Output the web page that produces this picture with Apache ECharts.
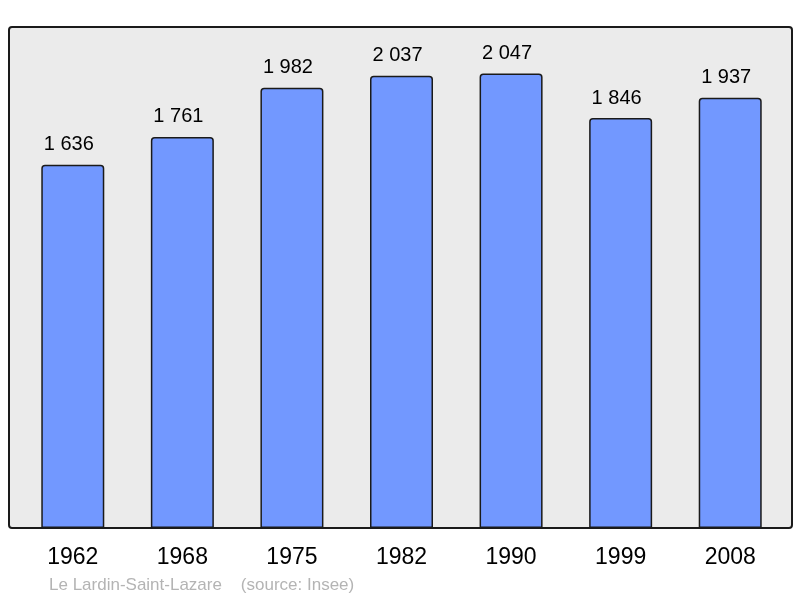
<!DOCTYPE html>
<html>
<head>
<meta charset="utf-8">
<script src="https://cdn.jsdelivr.net/npm/echarts@6/dist/echarts.min.js"></script>
<style>
  html, body { margin: 0; padding: 0; background: #fff; }
  #chart { width: 800px; height: 598px; }
</style>
</head>
<body>
<div id="chart"></div>
<script>
// données population
const years = ['1962', '1968', '1975', '1982', '1990', '1999', '2008'];
const population = [1636, 1761, 1982, 2037, 2047, 1846, 1937];
const footer = 'Le Lardin-Saint-Lazare    (source: Insee)';

const chart = echarts.init(document.getElementById('chart'));

// séparateur de milliers avec espace
function fmt(v) {
    return String(v).replace(/\B(?=(\d{3})+(?!\d))/g, ' ');
}

let option = {
    animation: false,
    backgroundColor: '#ffffff',
    title: {
        text: footer,
        left: 44,
        top: 572,
        textStyle: {
            color: '#b4b4b4',
            fontSize: 17,
            fontWeight: 'normal',
            fontFamily: 'Liberation Sans'
        }
    },
    graphic: [{
        type: 'rect',
        z: -10,
        shape: { x: 9, y: 27, width: 783, height: 501, r: 3 },
        style: { fill: '#ebebeb', stroke: '#1a1a1a', lineWidth: 2 }
    }],
    grid: {
        left: 18,
        right: 15,
        top: 27,
        bottom: 70
    },
    xAxis: {
        type: 'category',
        data: years,
        axisLine: { show: false },
        axisTick: { show: false },
        axisLabel: {
            margin: 18,
            fontSize: 23,
            color: '#000',
            fontFamily: 'Liberation Sans'
        }
    },
    yAxis: {
        type: 'value',
        min: 0,
        max: 2256,
        show: false,
        splitLine: { show: false }
    },
    series: [{
        type: 'bar',
        data: population,
        barWidth: 63,
        itemStyle: {
            color: '#7298ff',
            borderColor: '#1a1a1a',
            borderWidth: 1.5,
            borderRadius: [3, 3, 0, 0]
        },
        label: {
            show: true,
            position: 'top',
            distance: 10,
            offset: [-4, 0],
            fontSize: 20,
            color: '#000',
            fontFamily: 'Liberation Sans',
            formatter: function (p) { return fmt(p.value); }
        }
    }]
};
chart.setOption(option);
</script>
</body>
</html>
